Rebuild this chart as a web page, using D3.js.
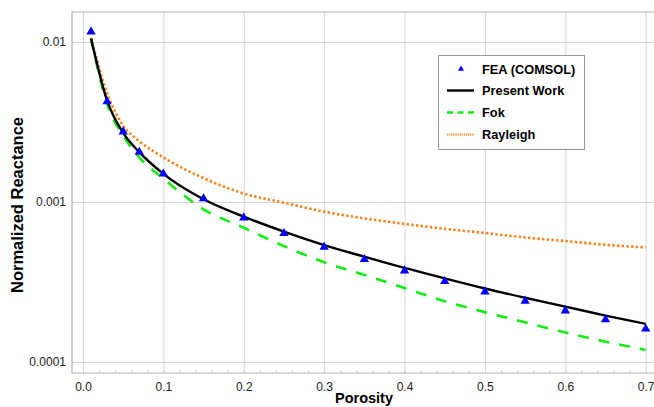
<!DOCTYPE html>
<html>
<head>
<meta charset="utf-8">
<script src="https://cdn.jsdelivr.net/npm/d3@7"></script>
<style>
  body { margin: 0; background: #fff; }
  svg { display: block; font-family: "Liberation Sans", Arial, sans-serif; }
</style>
</head>
<body>
<div id="chart"></div>
<script>
const porosity = [0.01, 0.03, 0.05, 0.07, 0.1, 0.15, 0.2, 0.25, 0.3, 0.35, 0.4, 0.45, 0.5, 0.55, 0.6, 0.65, 0.7]
const fea = [0.0116, 0.00424, 0.00275, 0.00205, 0.0015, 0.00105, 0.000798, 0.000637, 0.000523, 0.000438,
    0.000372, 0.000319, 0.000275, 0.00024, 0.000209, 0.000184, 0.000161]
const presentWork = [0.0105, 0.0043, 0.0027, 0.00205, 0.0015, 0.00104, 0.00081, 0.000653, 0.000538, 0.000455,
    0.000387, 0.000333, 0.000288, 0.000252, 0.000222, 0.000195, 0.000173]
const fok = [0.0105, 0.0041, 0.0026, 0.0019, 0.0014, 0.0009, 0.00069, 0.00053, 0.00042, 0.00035,
    0.00029, 0.00024, 0.000205, 0.000177, 0.000153, 0.000134, 0.000119]
const rayleigh = [0.0106, 0.0048, 0.003, 0.0024, 0.0019, 0.00141, 0.00113, 0.00099, 0.00087, 0.00079,
    0.00073, 0.00068, 0.00064, 0.0006, 0.00057, 0.00054, 0.00052]

const xTicks = [0, 0.1, 0.2, 0.3, 0.4, 0.5, 0.6, 0.7]
const yTicks = [0.0001, 0.001, 0.01]
const yTickLabels = ["0.0001", "0.001", "0.01"]

const W = 654, H = 407
const PLOT = { left: 72, top: 12, right: 660, bottom: 373 }

const svg = d3.select("#chart").append("svg")
    .attr("width", W)
    .attr("height", H)

const x = d3.scaleLinear().domain([0, 0.7]).range([83, 645.7])
const y = d3.scaleLog().domain([1e-4, 1e-2]).range([362, 42])

svg.append("clipPath").attr("id", "plot-clip")
    .append("rect")
    .attr("x", PLOT.left)
    .attr("y", PLOT.top)
    .attr("width", PLOT.right - PLOT.left)
    .attr("height", PLOT.bottom - PLOT.top)

// grid
const grid = svg.append("g")
grid.append("g")
    .attr("transform", `translate(0,${PLOT.bottom})`)
    .call(d3.axisBottom(x).tickValues(xTicks).tickSize(-(PLOT.bottom - PLOT.top)).tickFormat(""))
    .call(g => g.select(".domain").remove())
    .call(g => g.selectAll("line").attr("stroke", "#d4d4d4"))
grid.append("g")
    .attr("transform", `translate(${PLOT.left},0)`)
    .call(d3.axisLeft(y).tickValues(yTicks).tickSize(-(PLOT.right - PLOT.left)).tickFormat(""))
    .call(g => g.select(".domain").remove())
    .call(g => g.selectAll("line").attr("stroke", "#d4d4d4"))

// faint minor ticks along the bottom
svg.append("g")
    .attr("transform", `translate(0,${PLOT.bottom})`)
    .call(d3.axisTop(x).tickValues(d3.range(0.02, 0.7, 0.02)).tickSize(3).tickFormat(""))
    .call(g => g.select(".domain").remove())
    .call(g => g.selectAll("line").attr("stroke", "#d0d0d0"))

// frame
svg.append("path")
    .attr("d", `M${PLOT.right},${PLOT.top}H${PLOT.left}V${PLOT.bottom}H${PLOT.right}`)
    .attr("fill", "none")
    .attr("stroke", "#b0b0b0")
    .attr("stroke-width", 1.2)

// tick labels
svg.append("g")
    .attr("transform", `translate(0,${PLOT.bottom})`)
    .call(d3.axisBottom(x).tickValues(xTicks).tickSize(0).tickPadding(9).tickFormat(d3.format(".1f")))
    .call(g => g.select(".domain").remove())
    .call(g => g.selectAll("text").attr("fill", "#222").style("font-size", "12px"))
svg.append("g")
    .attr("transform", `translate(${PLOT.left},0)`)
    .call(d3.axisLeft(y).tickValues(yTicks).tickSize(0).tickPadding(6)
        .tickFormat((d, i) => yTickLabels[i]))
    .call(g => g.select(".domain").remove())
    .call(g => g.selectAll("text").attr("fill", "#222").style("font-size", "12px"))

svg.append("text")
    .attr("x", 364)
    .attr("y", 403)
    .attr("text-anchor", "middle")
    .style("font-size", "14.5px")
    .style("font-weight", "bold")
    .text("Porosity")

svg.append("text")
    .attr("transform", "translate(23,205) rotate(-90)")
    .attr("text-anchor", "middle")
    .style("font-size", "16.5px")
    .style("font-weight", "bold")
    .text("Normalized Reactance")

// series
const plot = svg.append("g").attr("clip-path", "url(#plot-clip)")

const line = vals => d3.line()
    .x((d, i) => x(porosity[i]))
    .y(d => y(d))
    .curve(d3.curveMonotoneX)(vals)

plot.append("path")
    .attr("d", line(rayleigh))
    .attr("fill", "none")
    .attr("stroke", "#ff8019")
    .attr("stroke-width", 2.6)
    .attr("stroke-dasharray", "2.4,2.3")

plot.append("path")
    .attr("d", line(fok))
    .attr("fill", "none")
    .attr("stroke", "#11ee11")
    .attr("stroke-width", 2.6)
    .attr("stroke-dasharray", "11,10")

plot.append("path")
    .attr("d", line(presentWork))
    .attr("fill", "none")
    .attr("stroke", "#000")
    .attr("stroke-width", 2.4)

plot.selectAll(".fea")
    .data(fea)
    .join("path")
    .attr("class", "fea")
    .attr("transform", (d, i) => `translate(${x(porosity[i])},${y(d)})`)
    .attr("d", d3.symbol(d3.symbolTriangle, 38)())
    .attr("fill", "#0000ff")

// legend
const legend = svg.append("g")
legend.append("rect")
    .attr("x", 438.5)
    .attr("y", 55.5)
    .attr("width", 146)
    .attr("height", 94)
    .attr("fill", "#fff")
    .attr("stroke", "#999")

const legendItems = [
    { label: "FEA (COMSOL)", y: 69 },
    { label: "Present Work", y: 90.5 },
    { label: "Fok", y: 112.5 },
    { label: "Rayleigh", y: 134.5 },
]

legend.append("path")
    .attr("transform", `translate(461,${legendItems[0].y})`)
    .attr("d", d3.symbol(d3.symbolTriangle, 16)())
    .attr("fill", "#0000ff")
legend.append("line")
    .attr("x1", 447).attr("x2", 474)
    .attr("y1", legendItems[1].y).attr("y2", legendItems[1].y)
    .attr("stroke", "#000").attr("stroke-width", 2.4)
legend.append("line")
    .attr("x1", 447).attr("x2", 474)
    .attr("y1", legendItems[2].y).attr("y2", legendItems[2].y)
    .attr("stroke", "#11ee11").attr("stroke-width", 2.6)
    .attr("stroke-dasharray", "6,4.5")
legend.append("line")
    .attr("x1", 447).attr("x2", 474)
    .attr("y1", legendItems[3].y).attr("y2", legendItems[3].y)
    .attr("stroke", "#ff8019").attr("stroke-width", 2)
    .attr("stroke-dasharray", "1.2,0.9")

legend.selectAll(".legend-label")
    .data(legendItems)
    .join("text")
    .attr("class", "legend-label")
    .attr("x", 482)
    .attr("y", d => d.y)
    .attr("dy", "0.36em")
    .style("font-size", "12.8px")
    .style("font-weight", "bold")
    .text(d => d.label)
</script>
</body>
</html>
